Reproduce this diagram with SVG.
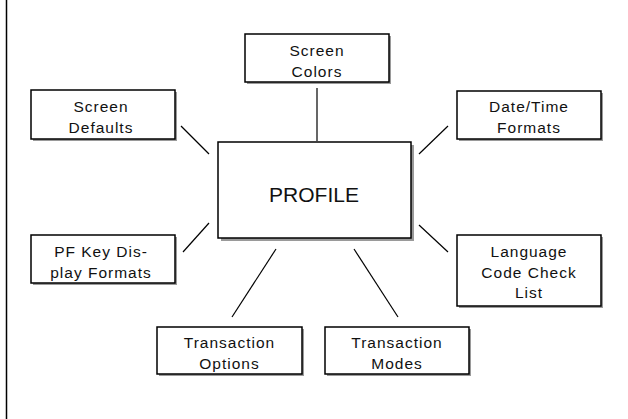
<svg xmlns="http://www.w3.org/2000/svg" width="628" height="419" viewBox="0 0 628 419">
<style>
.box{fill:#fff;stroke:#000;stroke-width:1.5}
.sh{fill:#9a9a9a}
.t{font-family:"Liberation Sans",Arial,sans-serif;font-size:15.5px;letter-spacing:1px;text-anchor:middle;fill:#111}
.big{font-family:"Liberation Sans",Arial,sans-serif;font-size:21px;text-anchor:middle;fill:#111}
.c{stroke:#000;stroke-width:1.2;fill:none}
</style>
<rect width="628" height="419" fill="#fff"/>
<line x1="6.5" y1="0" x2="6.5" y2="419" stroke="#000" stroke-width="1.5"/>
<g id="connectors">
<line class="c" x1="317" y1="88" x2="317" y2="141"/>
<line class="c" x1="181" y1="126" x2="209" y2="154"/>
<line class="c" x1="448" y1="126" x2="419" y2="154"/>
<line class="c" x1="209" y1="223" x2="183" y2="252"/>
<line class="c" x1="419" y1="225" x2="448" y2="252"/>
<line class="c" x1="276" y1="249" x2="232" y2="317"/>
<line class="c" x1="354" y1="249" x2="398" y2="317"/>
</g>
<g id="profile">
<rect class="sh" x="221" y="145" width="193" height="96"/>
<rect class="box" x="218" y="142" width="193" height="96"/>
<text class="big" x="314" y="202">PROFILE</text>
</g>
<g id="screen-colors">
<rect class="sh" x="247" y="36" width="144" height="48"/>
<rect class="box" x="245" y="34" width="144" height="48"/>
<text class="t" x="317" y="55.5">Screen</text>
<text class="t" x="317" y="76.5">Colors</text>
</g>
<g id="screen-defaults">
<rect class="sh" x="33" y="92" width="144" height="49"/>
<rect class="box" x="31" y="90" width="144" height="49"/>
<text class="t" x="101" y="112">Screen</text>
<text class="t" x="101" y="133">Defaults</text>
</g>
<g id="date-time">
<rect class="sh" x="459" y="93" width="144" height="48"/>
<rect class="box" x="457" y="91" width="144" height="48"/>
<text class="t" x="529" y="112">Date/Time</text>
<text class="t" x="529" y="133">Formats</text>
</g>
<g id="pf-key">
<rect class="sh" x="33" y="237" width="144" height="48"/>
<rect class="box" x="31" y="235" width="144" height="48"/>
<text class="t" x="101" y="256.5">PF Key Dis-</text>
<text class="t" x="101" y="277.5">play Formats</text>
</g>
<g id="language">
<rect class="sh" x="459" y="237" width="144" height="71"/>
<rect class="box" x="457" y="235" width="144" height="71"/>
<text class="t" x="529" y="257">Language</text>
<text class="t" x="529" y="278">Code Check</text>
<text class="t" x="529" y="298">List</text>
</g>
<g id="transaction-options">
<rect class="sh" x="159" y="329" width="145" height="47"/>
<rect class="box" x="157" y="327" width="145" height="47"/>
<text class="t" x="229.5" y="348">Transaction</text>
<text class="t" x="229.5" y="369">Options</text>
</g>
<g id="transaction-modes">
<rect class="sh" x="327" y="329" width="144" height="47"/>
<rect class="box" x="325" y="327" width="144" height="47"/>
<text class="t" x="397" y="348">Transaction</text>
<text class="t" x="397" y="369">Modes</text>
</g>
</svg>
